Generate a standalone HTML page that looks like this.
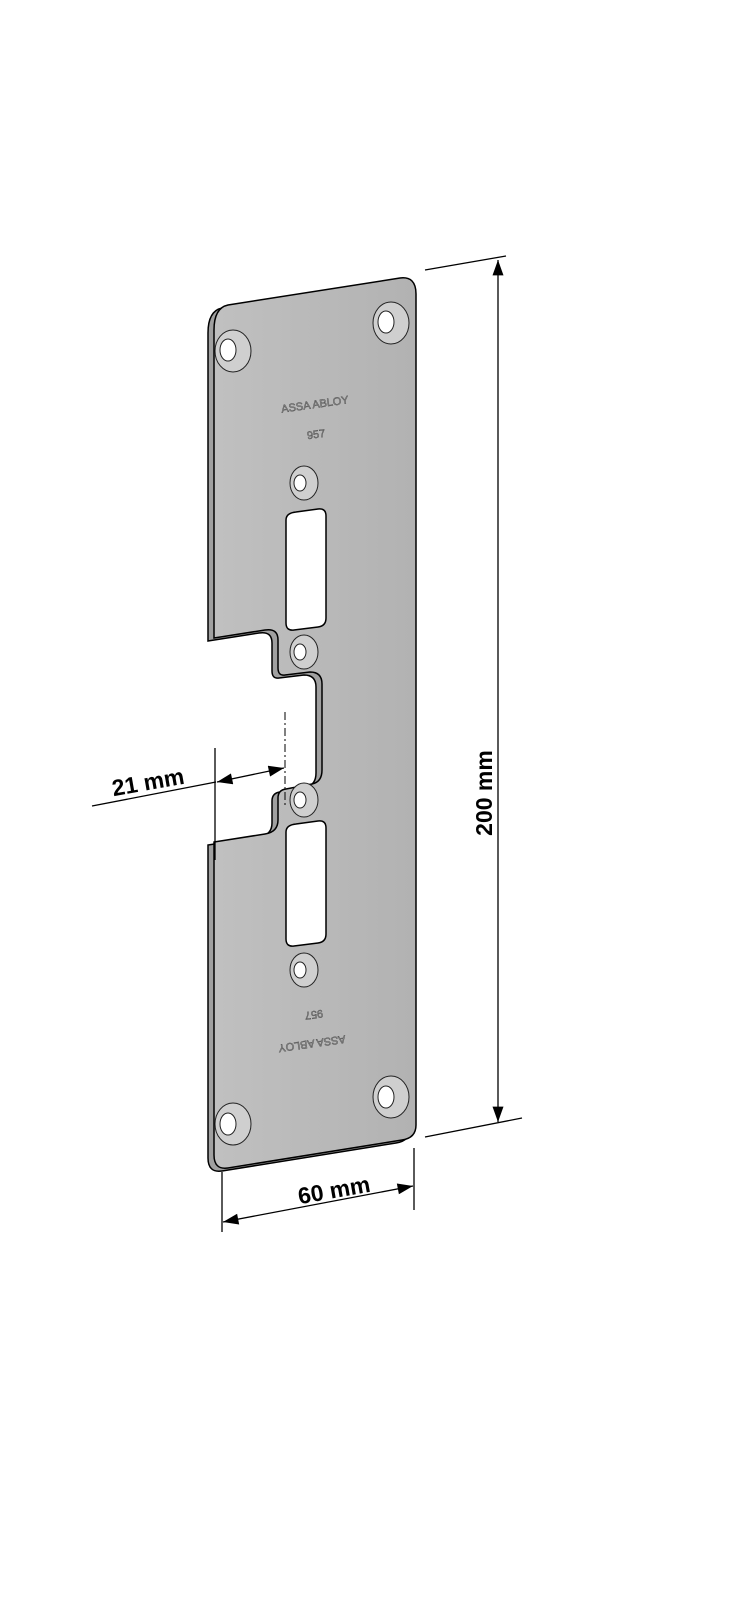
<!DOCTYPE html>
<html><head><meta charset="utf-8"><style>html,body{margin:0;padding:0;background:#fff;width:744px;height:1600px;overflow:hidden}</style></head>
<body>
<svg width="744" height="1600" viewBox="0 0 744 1600" xmlns="http://www.w3.org/2000/svg" font-family="Liberation Sans, sans-serif">
<defs>
<marker id="a" viewBox="0 0 14 10" refX="14" refY="5" markerWidth="16" markerHeight="11" orient="auto-start-reverse" markerUnits="userSpaceOnUse"><path d="M0,0 L14,5 L0,10 Z" fill="#000"/></marker>
<linearGradient id="g" x1="0" x2="1" y1="0" y2="0"><stop offset="0" stop-color="#c0c0c0"/><stop offset="1" stop-color="#b2b2b2"/></linearGradient>
</defs>
<g transform="translate(-6,3)">
<path d="M228,305 L400,278 Q416,276 416,294 L416,1125 Q416,1138 402,1140 L228,1168 Q214,1170 214,1155 L214,842 L265,834 Q278,832 278,820 L278,798 Q278,790 286,789 L312,784 Q322,782 322,770 L322,684 Q322,672 310,672 L285,675 Q278,676 278,668 L278,640 Q278,628 265,630 L214,638 L214,330 Q214,308 228,305 Z" fill="#a0a0a0" stroke="#000" stroke-width="1.5"/>
</g>
<path d="M228,305 L400,278 Q416,276 416,294 L416,1125 Q416,1138 402,1140 L228,1168 Q214,1170 214,1155 L214,842 L265,834 Q278,832 278,820 L278,798 Q278,790 286,789 L312,784 Q322,782 322,770 L322,684 Q322,672 310,672 L285,675 Q278,676 278,668 L278,640 Q278,628 265,630 L214,638 L214,330 Q214,308 228,305 Z" fill="url(#g)" stroke="#000" stroke-width="1.5"/>
<path d="M296,512 L318,509 Q326,508 326,516 L326,618 Q326,626 318,627 L294,630 Q286,631 286,623 L286,520 Q286,513 296,512 Z" fill="#fff" stroke="#000" stroke-width="1.5"/>
<path d="M296,824 L318,821 Q326,820 326,828 L326,934 Q326,942 318,943 L294,946 Q286,947 286,939 L286,832 Q286,825 296,824 Z" fill="#fff" stroke="#000" stroke-width="1.5"/>
<g stroke="#222" stroke-width="1">
<g fill="#cfcfcf">
<ellipse cx="233" cy="351" rx="18" ry="21"/><ellipse cx="391" cy="323" rx="18" ry="21"/>
<ellipse cx="304" cy="483" rx="14" ry="17"/><ellipse cx="304" cy="652" rx="14" ry="17"/>
<ellipse cx="304" cy="800" rx="14" ry="17"/><ellipse cx="304" cy="970" rx="14" ry="17"/>
<ellipse cx="233" cy="1124" rx="18" ry="21"/><ellipse cx="391" cy="1097" rx="18" ry="21"/>
</g>
<g fill="#fff">
<ellipse cx="228" cy="350" rx="8" ry="11"/><ellipse cx="386" cy="322" rx="8" ry="11"/>
<ellipse cx="300" cy="483" rx="6" ry="8"/><ellipse cx="300" cy="652" rx="6" ry="8"/>
<ellipse cx="300" cy="800" rx="6" ry="8"/><ellipse cx="300" cy="970" rx="6" ry="8"/>
<ellipse cx="228" cy="1124" rx="8" ry="11"/><ellipse cx="386" cy="1097" rx="8" ry="11"/>
</g></g>
<g fill="#999" stroke="#444" stroke-width="0.4" font-size="11">
<text x="315" y="408" text-anchor="middle" transform="rotate(-8 315 405)">ASSA ABLOY</text>
<text x="316" y="438" text-anchor="middle" transform="rotate(-8 316 434)">957</text>
<text x="312" y="1048" text-anchor="middle" transform="rotate(172 312 1044)">ASSA ABLOY</text>
<text x="314" y="1019" text-anchor="middle" transform="rotate(172 314 1015)">957</text>
</g>
<g stroke="#000" stroke-width="1.3" fill="none">
<line x1="425" y1="270" x2="506" y2="256"/>
<line x1="425" y1="1137" x2="522" y2="1118"/>
<line x1="498" y1="260" x2="498" y2="1122" marker-start="url(#a)" marker-end="url(#a)"/>
<line x1="222" y1="1172" x2="222" y2="1232"/>
<line x1="414" y1="1148" x2="414" y2="1210"/>
<line x1="223" y1="1222" x2="413" y2="1186" marker-start="url(#a)" marker-end="url(#a)"/>
<line x1="215" y1="748" x2="215" y2="860"/>
<line x1="285" y1="712" x2="285" y2="808" stroke-dasharray="8,3,2,3" stroke-width="1"/>
<line x1="92" y1="806" x2="216" y2="782"/>
<line x1="217" y1="782" x2="284" y2="768" marker-start="url(#a)" marker-end="url(#a)"/>
</g>
<g font-weight="bold" font-size="23" fill="#000">
<text x="492" y="793" text-anchor="middle" transform="rotate(-90 492 793)">200 mm</text>
<text x="334" y="1198" text-anchor="middle" transform="rotate(-10 334 1190)">60 mm</text>
<text x="148" y="790" text-anchor="middle" transform="rotate(-10 148 782)">21 mm</text>
</g>
</svg>
</body></html>
